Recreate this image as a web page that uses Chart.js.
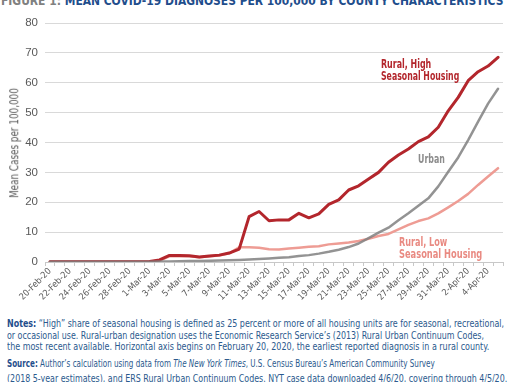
<!DOCTYPE html>
<html>
<head>
<meta charset="utf-8">
<script src="https://cdn.jsdelivr.net/npm/chart.js@4/dist/chart.umd.min.js"></script>
<style>
html,body{margin:0;padding:0;background:#fff;width:510px;height:382px;overflow:hidden;}
#wrap{position:relative;width:510px;height:382px;overflow:hidden;background:#fff;}
#chartBox{position:absolute;left:0;top:0;width:510px;height:300px;}
.fit{position:absolute;white-space:nowrap;transform-origin:0 50%;line-height:1;font-family:"Liberation Sans Narrow","DejaVu Sans Condensed","Liberation Sans",sans-serif;}
.lbl{font-weight:bold;font-size:12px;}
.note{font-size:10.5px;color:#2b5a8e;}
.note b{color:#1f4e8c;}
#ytitle{position:absolute;left:15px;top:143px;white-space:nowrap;line-height:1;font-size:11.5px;color:#595959;font-family:"Liberation Sans Narrow","DejaVu Sans Condensed","Liberation Sans",sans-serif;transform-origin:50% 50%;}
</style>
</head>
<body>
<div id="wrap">
  <div class="fit" data-w="502" style="left:1px;top:-6px;font-size:13px;font-weight:bold;"><span style="color:#808080">FIGURE 1:</span> <span style="color:#1f4e8c">MEAN COVID-19 DIAGNOSES PER 100,000 BY COUNTY CHARACTERISTICS</span></div>
  <div id="chartBox"><canvas id="c" width="510" height="300"></canvas></div>
  <div id="ytitle">Mean Cases per 100,000</div>
  <div class="fit lbl" data-w="50" data-cy="63.3" style="left:381px;color:#b3262c;">Rural, High</div>
  <div class="fit lbl" data-w="78" data-cy="76" style="left:381px;color:#b3262c;">Seasonal Housing</div>
  <div class="fit lbl" data-w="27" data-cy="159" style="left:418px;color:#8c8c8c;">Urban</div>
  <div class="fit lbl" data-w="48" data-cy="241.7" style="left:399px;color:#e98a82;">Rural, Low</div>
  <div class="fit lbl" data-w="83" data-cy="253.3" style="left:399px;color:#e98a82;">Seasonal Housing</div>
  <div class="fit note" data-w="497" data-cy="323.3" style="left:7px;"><b>Notes:</b> “High” share of seasonal housing is defined as 25 percent or more of all housing units are for seasonal, recreational,</div>
  <div class="fit note" data-w="477" data-cy="335" style="left:7px;">or occasional use. Rural-urban designation uses the Economic Research Service’s (2013) Rural Urban Continuum Codes,</div>
  <div class="fit note" data-w="482" data-cy="346.5" style="left:7px;">the most recent available. Horizontal axis begins on February 20, 2020, the earliest reported diagnosis in a rural county.</div>
  <div class="fit note" data-w="428" data-cy="363.3" style="left:7px;"><b>Source:</b> Author’s calculation using data from <i>The New York Times</i>, U.S. Census Bureau’s American Community Survey</div>
  <div class="fit note" data-w="500" data-cy="378.5" style="left:7px;">(2018 5-year estimates), and ERS Rural Urban Continuum Codes. NYT case data downloaded 4/6/20, covering through 4/5/20.</div>
</div>
<script>
// ---- DATA ----
const categories = [
  '20-Feb-20','21-Feb-20','22-Feb-20','23-Feb-20','24-Feb-20','25-Feb-20','26-Feb-20','27-Feb-20','28-Feb-20','29-Feb-20',
  '1-Mar-20','2-Mar-20','3-Mar-20','4-Mar-20','5-Mar-20','6-Mar-20','7-Mar-20','8-Mar-20','9-Mar-20','10-Mar-20',
  '11-Mar-20','12-Mar-20','13-Mar-20','14-Mar-20','15-Mar-20','16-Mar-20','17-Mar-20','18-Mar-20','19-Mar-20','20-Mar-20',
  '21-Mar-20','22-Mar-20','23-Mar-20','24-Mar-20','25-Mar-20','26-Mar-20','27-Mar-20','28-Mar-20','29-Mar-20','30-Mar-20','31-Mar-20',
  '1-Apr-20','2-Apr-20','3-Apr-20','4-Apr-20','5-Apr-20'
];
const ruralHigh = [
  0.1,0.1,0.1,0.1,0.1,0.1,0.1,0.1,0.1,0.1,
  0.2,0.7,2.2,2.2,2.1,1.7,2.0,2.3,3.0,4.3,
  15.2,16.9,13.8,14.1,14.1,16.3,14.8,16.1,19.3,20.8,
  24.1,25.5,27.8,30.0,33.4,35.8,37.8,40.3,41.9,45.1,50.6,
  55.1,60.7,63.7,65.6,68.5
];
const ruralLow = [
  0.05,0.05,0.05,0.05,0.05,0.05,0.05,0.05,0.05,0.05,
  0.1,0.5,1.9,2.0,1.9,1.6,1.9,2.2,2.9,4.9,
  4.9,4.8,4.3,4.2,4.5,4.8,5.1,5.3,5.9,6.2,
  6.5,7.0,7.8,8.7,9.4,10.9,12.4,13.7,14.6,16.3,18.3,
  20.4,22.8,25.8,28.6,31.4
];
const urban = [
  0.05,0.05,0.05,0.05,0.05,0.05,0.05,0.05,0.05,0.05,
  0.1,0.15,0.2,0.25,0.3,0.35,0.4,0.5,0.6,0.7,
  0.85,1.0,1.2,1.4,1.6,2.0,2.3,2.8,3.4,4.1,
  5.0,6.2,8.0,9.8,11.5,14.0,16.3,18.8,21.3,25.3,30.2,
  35.0,40.8,47.0,53.0,58.0
];
const yTicks = [0,10,20,30,40,50,60,70,80];

const FONT = '"Liberation Sans Narrow","DejaVu Sans Condensed","Liberation Sans",sans-serif';

new Chart(document.getElementById('c'), {
  type: 'line',
  data: {
    labels: categories,
    datasets: [
      {label:'Rural, High Seasonal Housing', data: ruralHigh, borderColor:'#b3262c', borderWidth:3, order:1},
      {label:'Rural, Low Seasonal Housing', data: ruralLow, borderColor:'#ee9c94', borderWidth:2.5, order:2},
      {label:'Urban', data: urban, borderColor:'rgba(128,128,128,0.85)', borderWidth:2.5, order:0}
    ]
  },
  options: {
    responsive: false,
    animation: false,
    events: [],
    elements: { point: { radius: 0 }, line: { tension: 0, borderJoinStyle: 'round', borderCapStyle: 'round' } },
    layout: { padding: { top: 23, right: 7, left: 0, bottom: 0 } },
    plugins: { legend: { display: false }, tooltip: { enabled: false }, title: { display: false } },
    scales: {
      x: {
        offset: true,
        afterFit: s => { s.height = 38; },
        grid: { display: true, drawOnChartArea: false, offset: true, tickLength: 4, color: '#c8c8c8' },
        border: { display: true, color: '#c8c8c8', width: 1 },
        ticks: {
          autoSkip: false, maxRotation: 45, minRotation: 45, padding: 0,
          color: '#595959', font: { family: FONT, size: 9 },
          callback: (v, i) => (i % 2 === 0 ? categories[i] : '')
        }
      },
      y: {
        min: yTicks[0], max: yTicks[yTicks.length - 1],
        afterFit: s => { s.width = 45; },
        afterBuildTicks: s => { s.ticks = yTicks.map(v => ({ value: v })); },
        grid: { color: '#d9d9d9', drawTicks: false, lineWidth: 1 },
        border: { display: false },
        ticks: { padding: 7, color: '#595959', font: { family: '"Liberation Sans", sans-serif', size: 11.5 } }
      }
    }
  }
});

function fitAll() {
  document.querySelectorAll('.fit').forEach(el => {
    const tw = parseFloat(el.dataset.w);
    const w = el.offsetWidth;
    const k = tw / w;
    el.style.transform = 'scaleX(' + k + ')';
    if (el.dataset.cy) {
      const fs = parseFloat(getComputedStyle(el).fontSize);
      el.style.top = (parseFloat(el.dataset.cy) - 0.48 * fs) + 'px';
    }
  });
  const yt = document.getElementById('ytitle');
  const k = 110 / yt.offsetWidth;
  yt.style.transform = 'translate(-50%,-50%) rotate(-90deg) scaleX(' + k + ')';
}
fitAll();
</script>
</body>
</html>
